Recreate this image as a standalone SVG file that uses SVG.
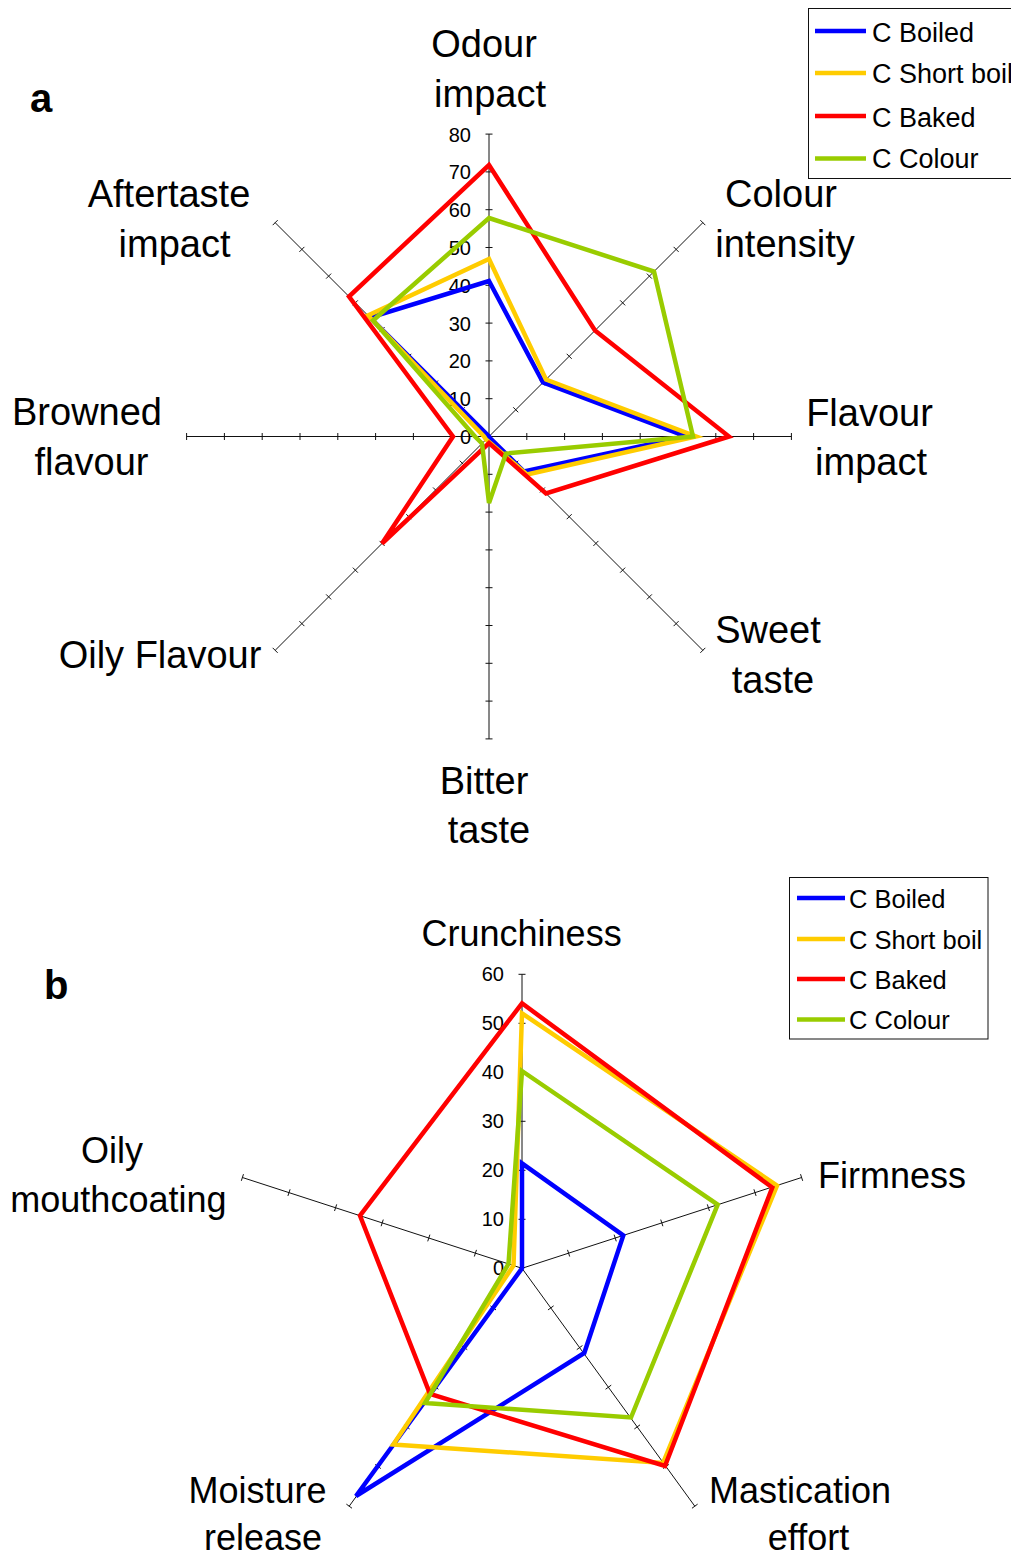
<svg xmlns="http://www.w3.org/2000/svg" width="1011" height="1555" viewBox="0 0 1011 1555">
<style>
.ax{fill:none;stroke:#111;stroke-width:1}
.s{fill:none;stroke-width:4.5;stroke-linejoin:miter}
.b{stroke:#0000FF}.y{stroke:#FFCC00}.r{stroke:#FF0000}.g{stroke:#99CC00}
.lab{font-family:"Liberation Sans",Arial,sans-serif;font-size:38px;fill:#000;text-anchor:middle}
.labb{font-family:"Liberation Sans",Arial,sans-serif;font-size:36px;fill:#000;text-anchor:middle}
.tk{font-family:"Liberation Sans",Arial,sans-serif;font-size:20px;fill:#000;text-anchor:end}
.lg{font-family:"Liberation Sans",Arial,sans-serif;font-size:27px;fill:#000}
.lgb{font-family:"Liberation Sans",Arial,sans-serif;font-size:25.5px;fill:#000}
.pl{font-family:"Liberation Sans",Arial,sans-serif;font-size:40px;font-weight:bold;fill:#000}
</style>
<rect width="1011" height="1555" fill="#fff"/>

<!-- ========== Chart a ========== -->
<g id="chart-a-axes">
<path class="ax" d="M489,134.1V738.9M186.6,436.5H791.4M275.17,222.67L702.83,650.33M702.83,222.67L275.17,650.33"/>
<path class="ax" d="M485.5,398.7h7M485.5,360.9h7M485.5,323.1h7M485.5,285.3h7M485.5,247.5h7M485.5,209.7h7M485.5,171.9h7M485.5,134.1h7
M485.5,474.3h7M485.5,512.1h7M485.5,549.9h7M485.5,587.7h7M485.5,625.5h7M485.5,663.3h7M485.5,701.1h7M485.5,738.9h7
M526.8,433v7M564.6,433v7M602.4,433v7M640.2,433v7M678,433v7M715.8,433v7M753.6,433v7M791.4,433v7
M451.2,433v7M413.4,433v7M375.6,433v7M337.8,433v7M300,433v7M262.2,433v7M224.4,433v7M186.6,433v7
M513.23,407.27l5,5M539.96,380.54l5,5M566.69,353.81l5,5M593.42,327.08l5,5M620.15,300.35l5,5M646.88,273.62l5,5M673.61,246.89l5,5M700.33,220.17l5,5
M459.77,460.73l5,5M433.04,487.46l5,5M406.31,514.19l5,5M379.58,540.92l5,5M352.85,567.65l5,5M326.12,594.38l5,5M299.39,621.11l5,5M272.67,647.83l5,5
M513.23,465.73l5,-5M539.96,492.46l5,-5M566.69,519.19l5,-5M593.42,545.92l5,-5M620.15,572.65l5,-5M646.88,599.38l5,-5M673.61,626.11l5,-5M700.33,652.83l5,-5
M459.77,412.27l5,-5M433.04,385.54l5,-5M406.31,358.81l5,-5M379.58,332.08l5,-5M352.85,305.35l5,-5M326.12,278.62l5,-5M299.39,251.89l5,-5M272.67,225.17l5,-5"/>
<text class="tk" x="471" y="444">0</text>
<text class="tk" x="471" y="406.2">10</text>
<text class="tk" x="471" y="368.4">20</text>
<text class="tk" x="471" y="330.6">30</text>
<text class="tk" x="471" y="292.8">40</text>
<text class="tk" x="471" y="255">50</text>
<text class="tk" x="471" y="217.2">60</text>
<text class="tk" x="471" y="179.4">70</text>
<text class="tk" x="471" y="141.6">80</text>
</g>

<g id="chart-a-series">
<polygon class="s b" points="489,281 543,382.5 686,436.5 524,471.5 489,437 489,436.5 489,436.5 370,317.5"/>
<polygon class="s y" points="489,259 546,379.5 696,436.5 527,474.5 489,442 486,439.5 484,436.5 368,315.5"/>
<polygon class="s r" points="489,165 595,330.5 729,436.5 546,493.5 489,443 382,543.5 453,436.5 349,296.5"/>
<polygon class="s g" points="489,218 654,271.5 693,436.5 506,453.5 489,503 482,443.5 475,436.5 373,320.5"/>
</g>

<g id="chart-a-labels">
<text class="pl" x="30" y="112">a</text>
<g id="a-odour"><text class="lab" x="484" y="57">Odour</text><text class="lab" x="490" y="107">impact</text></g>
<g id="a-colour"><text class="lab" x="781" y="207">Colour</text><text class="lab" x="785" y="257">intensity</text></g>
<g id="a-flavour"><text class="lab" x="869.5" y="426">Flavour</text><text class="lab" x="871" y="475">impact</text></g>
<g id="a-sweet"><text class="lab" x="768" y="643">Sweet</text><text class="lab" x="773" y="693">taste</text></g>
<g id="a-bitter"><text class="lab" x="484" y="794">Bitter</text><text class="lab" x="489" y="843">taste</text></g>
<g id="a-oily"><text class="lab" x="160" y="668">Oily Flavour</text></g>
<g id="a-browned"><text class="lab" x="87" y="425">Browned</text><text class="lab" x="91.5" y="475">flavour</text></g>
<g id="a-aftertaste"><text class="lab" x="169" y="207">Aftertaste</text><text class="lab" x="174.5" y="257">impact</text></g>
</g>

<g id="legend-a">
<rect x="808.5" y="8.5" width="230" height="170" fill="#fff" stroke="#111" stroke-width="1"/>
<path class="s b" d="M815,31H866"/><text class="lg" x="872" y="41.7">C Boiled</text>
<path class="s y" d="M815,73H866"/><text class="lg" x="872" y="82.7">C Short boil</text>
<path class="s r" d="M815,116H866"/><text class="lg" x="872" y="126.7">C Baked</text>
<path class="s g" d="M815,158.5H866"/><text class="lg" x="872" y="168.3">C Colour</text>
</g>

<!-- ========== Chart b ========== -->
<g id="chart-b-axes">
<path class="ax" d="M522,974.3V1268.3M522,1268.3L801.6,1177.5M522,1268.3L694.8,1506.2M522,1268.3L349.2,1506.2M522,1268.3L242.4,1177.5"/>
<path class="ax" d="M518.5,1219.3h7M518.5,1170.3h7M518.5,1121.3h7M518.5,1072.3h7M518.5,1023.3h7M518.5,974.3h7
M567.52,1249.87l2.16,6.66M614.12,1234.67l2.16,6.66M660.72,1219.57l2.16,6.66M707.32,1204.37l2.16,6.66M753.92,1189.27l2.16,6.66M800.52,1174.17l2.16,6.66
M547.97,1309.96l5.66,-4.12M576.77,1349.66l5.66,-4.12M605.57,1389.26l5.66,-4.12M634.37,1428.96l5.66,-4.12M663.17,1468.56l5.66,-4.12M691.97,1508.26l5.66,-4.12
M490.37,1305.84l5.66,4.12M461.57,1345.54l5.66,4.12M432.77,1385.14l5.66,4.12M403.97,1424.84l5.66,4.12M375.17,1464.44l5.66,4.12M346.37,1504.14l5.66,4.12
M476.48,1249.87l-2.16,6.66M429.88,1234.67l-2.16,6.66M383.28,1219.57l-2.16,6.66M336.68,1204.37l-2.16,6.66M290.08,1189.27l-2.16,6.66M243.48,1174.17l-2.16,6.66"/>
<text class="tk" x="504" y="1275.3">0</text>
<text class="tk" x="504" y="1226.3">10</text>
<text class="tk" x="504" y="1177.3">20</text>
<text class="tk" x="504" y="1128.3">30</text>
<text class="tk" x="504" y="1079.3">40</text>
<text class="tk" x="504" y="1030.3">50</text>
<text class="tk" x="504" y="981.3">60</text>
</g>

<g id="chart-b-series">
<polygon class="s b" points="522,1163.3 623.3,1235.4 584.3,1353 356,1496 522,1268.3"/>
<polygon class="s y" points="522,1013.3 777,1185.5 663,1463 393.3,1444.5 513.5,1265.5"/>
<polygon class="s r" points="522,1003.3 772.3,1187.5 665,1466 430,1394 360,1215.7"/>
<polygon class="s g" points="522,1071 717.7,1204.7 631,1417.5 425,1403 508.5,1263.9"/>
</g>

<g id="chart-b-labels">
<text class="pl" x="44" y="999">b</text>
<g id="b-crunchiness"><text class="labb" x="521.6" y="946">Crunchiness</text></g>
<g id="b-firmness"><text class="labb" x="892" y="1188">Firmness</text></g>
<g id="b-mastication"><text class="labb" x="800" y="1503">Mastication</text><text class="labb" x="808.5" y="1550">effort</text></g>
<g id="b-moisture"><text class="labb" x="257.5" y="1503">Moisture</text><text class="labb" x="263" y="1550">release</text></g>
<g id="b-oily"><text class="labb" x="112" y="1163">Oily</text><text class="labb" x="118.4" y="1211.7">mouthcoating</text></g>
</g>

<g id="legend-b">
<rect x="789.5" y="877.5" width="198.5" height="161.5" fill="#fff" stroke="#111" stroke-width="1"/>
<path class="s b" d="M797,898H845"/><text class="lgb" x="849" y="908.3">C Boiled</text>
<path class="s y" d="M797,939H845"/><text class="lgb" x="849" y="949">C Short boil</text>
<path class="s r" d="M797,979H845"/><text class="lgb" x="849" y="989.3">C Baked</text>
<path class="s g" d="M797,1019.5H845"/><text class="lgb" x="849" y="1029.3">C Colour</text>
</g>
</svg>
